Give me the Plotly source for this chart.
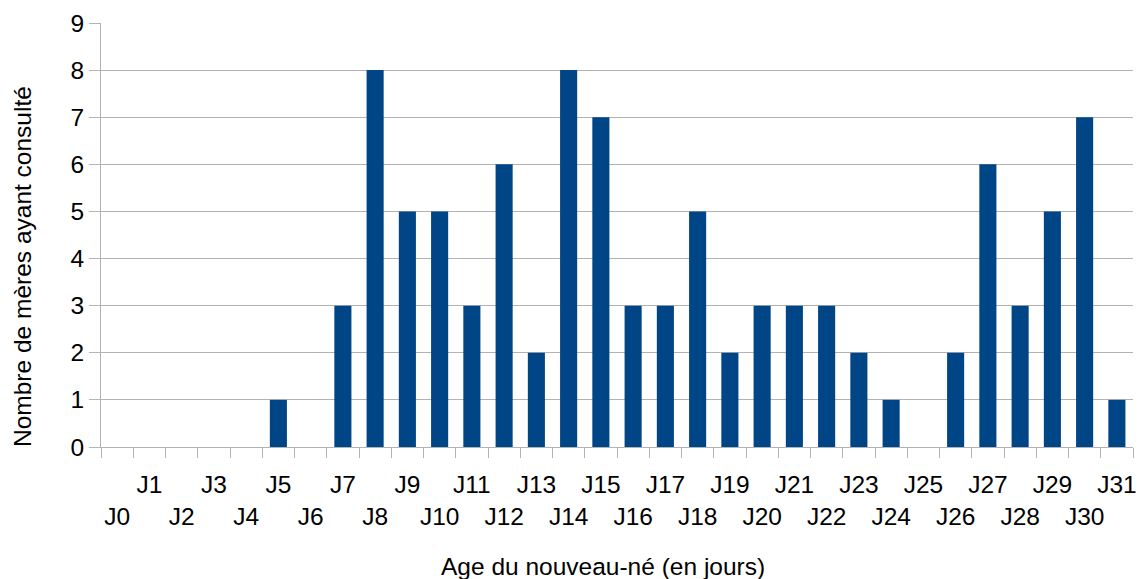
import plotly.graph_objects as go

# Age of the newborn (days) and number of mothers who consulted
days = [f"J{i}" for i in range(32)]
mothers = [0, 0, 0, 0, 0, 1, 0, 3, 8, 5, 5, 3, 6, 2, 8, 7,
           3, 3, 5, 2, 3, 3, 3, 2, 1, 0, 2, 6, 3, 5, 7, 1]

# Staggered category labels: odd days on the upper row, even days on the lower row
upper_labels = [d if i % 2 == 1 else "" for i, d in enumerate(days)]
lower_labels = [d if i % 2 == 0 else "" for i, d in enumerate(days)]

x_title = "Age du nouveau-né (en jours)"
y_title = "Nombre de mères ayant consulté"

BAR = "#004586"
GRID = "#b3b3b3"
FONT = "Liberation Sans, Arial, sans-serif"
FS = 24.5

fig = go.Figure()
fig.add_trace(go.Bar(x=days, y=mothers, marker=dict(color=BAR, line=dict(width=0)),
                     showlegend=False))
# carrier trace for the second label row (draws nothing)
fig.add_trace(go.Scatter(x=days, y=mothers, xaxis="x2", mode="none",
                         hoverinfo="skip", showlegend=False))

fig.update_layout(
    width=1138, height=579,
    margin=dict(l=101, r=5, t=23, b=132),
    paper_bgcolor="white", plot_bgcolor="white",
    font=dict(family=FONT, size=FS, color="black"),
    bargap=0.47,
    xaxis=dict(
        type="category", range=[-0.5, 31.5],
        tickmode="array", tickvals=days, ticktext=upper_labels,
        tickson="boundaries", ticks="outside", ticklen=10, tickcolor=GRID,
        showline=True, linecolor=GRID, linewidth=1,
        showgrid=False, ticklabelstandoff=16, tickangle=0, automargin=False,
        tickfont=dict(size=FS),
    ),
    xaxis2=dict(
        type="category", range=[-0.5, 31.5], overlaying="x", matches="x",
        anchor="y", side="bottom",
        tickmode="array", tickvals=days, ticktext=lower_labels,
        ticks="", showline=False, showgrid=False, tickangle=0, automargin=False,
        ticklabelstandoff=52, tickfont=dict(size=FS),
    ),
    yaxis=dict(
        range=[0, 9], dtick=1, tick0=0,
        ticks="outside", ticklen=11, tickcolor=GRID,
        showgrid=True, gridcolor=GRID, gridwidth=1,
        showline=True, linecolor=GRID, linewidth=1,
        zeroline=False, automargin=False, tickfont=dict(size=FS),
    ),
    annotations=[
        dict(text=x_title, xref="paper", yref="paper", x=(603 - 101) / 1032,
             y=-(566 - 447) / 424, xanchor="center", yanchor="middle",
             showarrow=False, font=dict(size=FS)),
        dict(text=y_title, xref="paper", yref="paper", x=-(101 - 22) / 1032,
             y=(447 - 267) / 424, xanchor="center", yanchor="middle",
             textangle=-90, showarrow=False, font=dict(size=FS)),
    ],
)

fig.write_html("out.html")
